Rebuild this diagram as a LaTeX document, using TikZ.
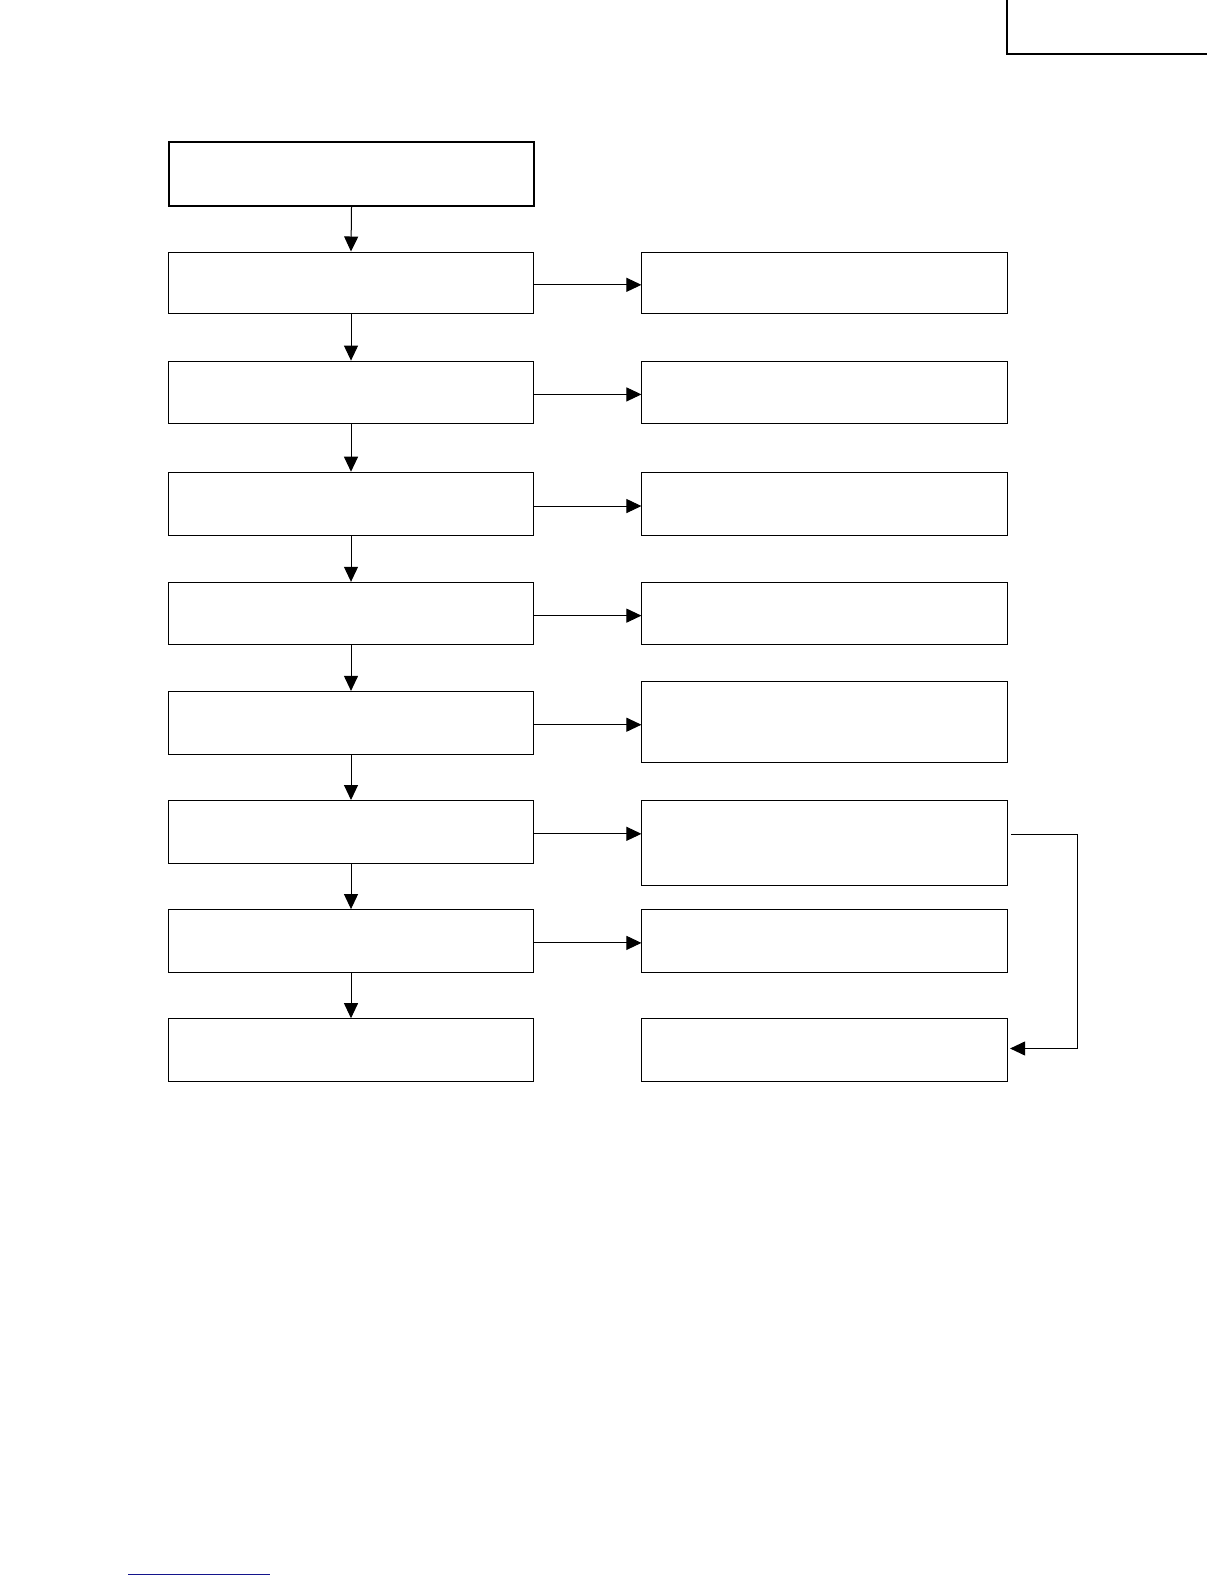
\documentclass[tikz,border=0pt]{standalone}
\usetikzlibrary{arrows.meta}
\definecolor{linkblue}{RGB}{20,20,140}
\def\u{1.0101}
\begin{document}
\begin{tikzpicture}[x=1.0101pt,y=-1.0101pt,
  box/.style={draw, line width=1pt, minimum width=\u*362pt, inner sep=0pt, anchor=north west},
  arr/.style={-{Triangle[length=15pt,width=14pt]}, line width=1pt}]
\useasboundingbox (0,0) rectangle (1211.76,1568.16);
% left column
\node[box, line width=2pt, minimum height=\u*63pt] (b0) at (166,140) {};
\node[box, minimum height=\u*61pt] (b1) at (166,249) {};
\node[box, minimum height=\u*62pt] (b2) at (166,357) {};
\node[box, minimum height=\u*63pt] (b3) at (166,467) {};
\node[box, minimum height=\u*62pt] (b4) at (166,576) {};
\node[box, minimum height=\u*62pt] (b5) at (166,684) {};
\node[box, minimum height=\u*62pt] (b6) at (166,792) {};
\node[box, minimum height=\u*62pt] (b7) at (166,900) {};
\node[box, minimum height=\u*62pt] (b8) at (166,1008) {};
% right column
\node[box, minimum height=\u*61pt] (r1) at (635,249) {};
\node[box, minimum height=\u*62pt] (r2) at (635,357) {};
\node[box, minimum height=\u*63pt] (r3) at (635,467) {};
\node[box, minimum height=\u*62pt] (r4) at (635,576) {};
\node[box, minimum height=\u*80pt] (r5) at (635,674) {};
\node[box, minimum height=\u*84pt] (r6) at (635,792) {};
\node[box, minimum height=\u*62pt] (r7) at (635,900) {};
\node[box, minimum height=\u*62pt] (r8) at (635,1008) {};
% vertical arrows
\foreach \a/\b in {b0/b1,b1/b2,b2/b3,b3/b4,b4/b5,b5/b6,b6/b7,b7/b8}
  \draw[arr] (\a.south) -- (\b.north);
% horizontal arrows
\foreach \i in {1,...,7}
  \draw[arr] ([yshift=-2pt]b\i.east) -- ([yshift=-2pt]b\i.east -| r\i.west);
% feedback
\coordinate (c1) at (1067,826);
\coordinate (c2) at (1067,1038);
\draw[arr] ([xshift=3pt]r6.east |- c1) -- (c1) -- (c2) -- ([xshift=2pt]r8.east |- c2);
% corner mark
\draw[line width=2pt] (997,0) -- (997,53) -- (1195,53);
% bottom link line
\draw[linkblue, line width=1pt] (127,1559) -- (267,1559);
\end{tikzpicture}
\end{document}
